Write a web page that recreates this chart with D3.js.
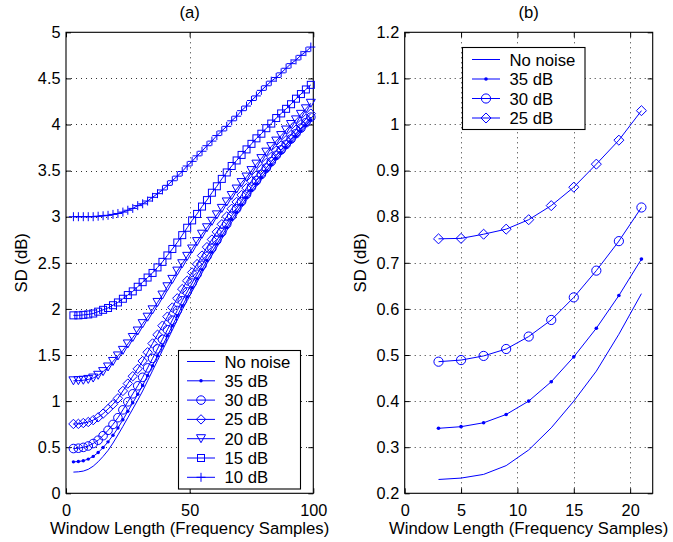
<!DOCTYPE html>
<html><head><meta charset="utf-8">
<script src="https://cdn.jsdelivr.net/npm/d3@7"></script>
<style>
body{margin:0;background:#fff}
svg{display:block;background:#fff}
text{font-family:"Liberation Sans",Arial,Helvetica,sans-serif;fill:#000}
</style>
</head><body>
<svg id="chart" width="673" height="542"></svg>
<script>
// ---------------- DATA ----------------
const windowLength = [3,5,7,9,11,13,15,17,19,21,23,25,27,29,31,33,35,37,39,41,43,45,47,49,51,53,55,57,59,61,63,65,67,69,71,73,75,77,79,81,83,85,87,89,91,93,95,97,99];

const noNoise = [0.230,0.233,0.241,0.260,0.294,0.342,0.400,0.465,0.545,0.633,0.725,0.82,0.915,1.01,1.11,1.22,1.33,1.44,1.55,1.66,1.77,1.88,1.99,2.09,2.19,2.29,2.39,2.49,2.58,2.67,2.76,2.85,2.94,3.02,3.10,3.18,3.26,3.33,3.40,3.47,3.54,3.61,3.67,3.73,3.79,3.85,3.91,3.97,4.03];
const snr35 = [0.341,0.3445,0.353,0.371,0.400,0.442,0.496,0.558,0.629,0.708,0.797,0.889,0.981,1.073,1.17,1.277,1.384,1.492,1.60,1.708,1.816,1.924,2.032,2.13,2.229,2.327,2.426,2.525,2.614,2.703,2.792,2.881,2.97,3.049,3.128,3.207,3.286,3.356,3.425,3.495,3.564,3.634,3.693,3.753,3.812,3.872,3.931,3.991,4.05];
const snr30 = [0.4855,0.489,0.498,0.513,0.540,0.576,0.625,0.683,0.747,0.820,0.905,0.992,1.079,1.166,1.258,1.36,1.463,1.566,1.67,1.774,1.878,1.983,2.088,2.184,2.28,2.376,2.473,2.57,2.657,2.744,2.832,2.92,3.008,3.086,3.164,3.242,3.321,3.39,3.459,3.528,3.597,3.666,3.725,3.784,3.843,3.902,3.961,4.02,4.08];
const snr25 = [0.752,0.753,0.762,0.773,0.7935,0.824,0.864,0.914,0.966,1.030,1.11,1.19,1.27,1.35,1.435,1.53,1.625,1.72,1.818,1.916,2.015,2.115,2.215,2.305,2.395,2.486,2.578,2.67,2.752,2.835,2.918,3.002,3.086,3.16,3.235,3.31,3.385,3.45,3.516,3.582,3.648,3.715,3.772,3.829,3.886,3.944,4.002,4.06,4.118];
const snr20 = [1.220,1.222,1.226,1.235,1.25,1.28,1.32,1.37,1.43,1.49,1.55,1.62,1.69,1.76,1.84,1.91,1.99,2.07,2.15,2.24,2.32,2.41,2.49,2.57,2.65,2.73,2.81,2.88,2.95,3.02,3.09,3.16,3.23,3.30,3.37,3.43,3.50,3.57,3.63,3.70,3.76,3.82,3.88,3.94,4.00,4.05,4.11,4.17,4.23];
const snr15 = [1.93,1.93,1.935,1.94,1.95,1.97,1.99,2.01,2.04,2.07,2.11,2.15,2.19,2.24,2.29,2.34,2.39,2.45,2.51,2.58,2.65,2.72,2.80,2.88,2.96,3.03,3.11,3.18,3.26,3.33,3.41,3.48,3.55,3.61,3.67,3.73,3.79,3.85,3.90,3.96,4.01,4.07,4.12,4.17,4.22,4.28,4.33,4.38,4.43];
const snr10 = [3.00,3.00,3.00,3.00,3.00,3.005,3.01,3.015,3.025,3.035,3.05,3.07,3.09,3.12,3.14,3.17,3.21,3.25,3.29,3.34,3.39,3.44,3.49,3.55,3.60,3.66,3.71,3.77,3.82,3.88,3.93,3.98,4.04,4.09,4.15,4.20,4.26,4.31,4.37,4.42,4.47,4.51,4.56,4.61,4.66,4.70,4.75,4.79,4.84];

const seriesNames = ["No noise","35 dB","30 dB","25 dB","20 dB","15 dB","10 dB"];
const seriesMarkers = ["none","dot","circle","diamond","triangle","square","plus"];
const seriesValues = [noNoise, snr35, snr30, snr25, snr20, snr15, snr10];

const panelBCount = 10; // panel (b) zooms on the first ten window lengths (3..21)

const xTicksA = [0,50,100];
const yTicksA = [0,0.5,1,1.5,2,2.5,3,3.5,4,4.5,5];
const xTicksB = [0,5,10,15,20];
const yTicksB = [0.2,0.3,0.4,0.5,0.6,0.7,0.8,0.9,1,1.1,1.2];

const titleA = "(a)", titleB = "(b)";
const xLabel = "Window Length (Frequency Samples)";
const yLabel = "SD (dB)";

// ---------------- DRAWING ----------------
const BLUE = "#0000ff";
const svg = d3.select("#chart");
svg.append("rect").attr("width",673).attr("height",542).attr("fill","#fff");

function drawMarker(g, type, x, y, s) {
  if (type === "none") return;
  if (type === "dot") {
    g.append("circle").attr("cx",x).attr("cy",y).attr("r",1.7*s).attr("fill",BLUE);
  } else if (type === "circle") {
    g.append("circle").attr("cx",x).attr("cy",y).attr("r",4.3*s)
      .attr("fill","none").attr("stroke",BLUE).attr("stroke-width",1);
  } else if (type === "diamond") {
    const h = 4.7*s;
    g.append("path").attr("d",`M${x},${y-h}L${x+h},${y}L${x},${y+h}L${x-h},${y}Z`)
      .attr("fill","none").attr("stroke",BLUE).attr("stroke-width",1);
  } else if (type === "triangle") {
    const w = 4.5*s, h = 4*s;
    g.append("path").attr("d",`M${x-w},${y-h}L${x+w},${y-h}L${x},${y+h}Z`)
      .attr("fill","none").attr("stroke",BLUE).attr("stroke-width",1);
  } else if (type === "square") {
    const h = 3.5*s;
    g.append("rect").attr("x",x-h).attr("y",y-h).attr("width",2*h).attr("height",2*h)
      .attr("fill","none").attr("stroke",BLUE).attr("stroke-width",1);
  } else if (type === "plus") {
    const h = 4.5*s;
    g.append("path").attr("d",`M${x-h},${y}L${x+h},${y}M${x},${y-h}L${x},${y+h}`)
      .attr("fill","none").attr("stroke",BLUE).attr("stroke-width",1);
  }
}

function panel(cfg) {
  const {x, y, xTicks, yTicks, title, n, mScale, legend, seriesCount} = cfg;
  const g = svg.append("g");
  const [x0,x1] = x.range(), [y0,y1] = y.range();

  // grid
  const grid = g.append("g").attr("stroke","#000").attr("stroke-width",1)
    .attr("stroke-dasharray","1,4").attr("opacity",0.8);
  xTicks.filter(t => x(t) > x0+1 && x(t) < x1-1).forEach(t => {
    grid.append("line").attr("x1",Math.round(x(t))+0.5).attr("x2",Math.round(x(t))+0.5)
      .attr("y1",y1).attr("y2",y0);
  });
  yTicks.filter(t => y(t) < y0-1 && y(t) > y1+1).forEach(t => {
    grid.append("line").attr("y1",Math.round(y(t))+0.5).attr("y2",Math.round(y(t))+0.5)
      .attr("x1",x0).attr("x2",x1);
  });

  // axes
  const fmt = d => String(d);
  const axB = g.append("g").attr("transform",`translate(0,${y0})`)
    .call(d3.axisBottom(x).tickValues(xTicks).tickSize(-5).tickPadding(11).tickFormat(fmt));
  const axT = g.append("g").attr("transform",`translate(0,${y1})`)
    .call(d3.axisTop(x).tickValues(xTicks).tickSize(-5).tickFormat(""));
  const axL = g.append("g").attr("transform",`translate(${x0},0)`)
    .call(d3.axisLeft(y).tickValues(yTicks).tickSize(-5).tickPadding(5.5).tickFormat(fmt));
  const axR = g.append("g").attr("transform",`translate(${x1},0)`)
    .call(d3.axisRight(y).tickValues(yTicks).tickSize(-5).tickFormat(""));
  [axB,axT,axL,axR].forEach(a => {
    a.select(".domain").remove();
    a.attr("font-family",null).attr("font-size",null);
    a.selectAll("line").attr("stroke","#000");
    a.selectAll("text").attr("font-size",16.3).attr("fill","#000");
  });

  // box
  g.append("rect").attr("x",x0).attr("y",y1).attr("width",x1-x0).attr("height",y0-y1)
    .attr("fill","none").attr("stroke","#000").attr("stroke-width",1.1);

  // data
  const lineGen = d3.line().x(d => x(d[0])).y(d => y(d[1]));
  const dg = g.append("g");
  for (let s = 0; s < seriesCount; s++) {
    const pts = windowLength.slice(0,n).map((w,i) => [w, seriesValues[s][i]]);
    dg.append("path").attr("d",lineGen(pts)).attr("fill","none")
      .attr("stroke",BLUE).attr("stroke-width",1);
    const mg = dg.append("g");
    pts.forEach(p => drawMarker(mg, seriesMarkers[s], x(p[0]), y(p[1]), mScale));
  }

  // labels
  const cx = (x0+x1)/2;
  g.append("text").attr("x",cx).attr("y",18).attr("text-anchor","middle")
    .attr("font-size",16.7).text(title);
  g.append("text").attr("x",cx).attr("y",534).attr("text-anchor","middle")
    .attr("font-size",16.7).text(xLabel);
  g.append("text").attr("transform",`translate(${x0-39},${(y0+y1)/2}) rotate(-90)`)
    .attr("text-anchor","middle").attr("font-size",16.7).text(yLabel);

  // legend
  const lg = g.append("g");
  lg.append("rect").attr("x",legend.x).attr("y",legend.y).attr("width",legend.w).attr("height",legend.h)
    .attr("fill","#fff").attr("stroke","#000").attr("stroke-width",1.1);
  for (let s = 0; s < seriesCount; s++) {
    const ry = legend.firstRow + s*legend.rowH;
    lg.append("line").attr("x1",legend.lx0).attr("x2",legend.lx1).attr("y1",ry).attr("y2",ry)
      .attr("stroke",BLUE).attr("stroke-width",1);
    drawMarker(lg, seriesMarkers[s], (legend.lx0+legend.lx1)/2, ry, mScale);
    lg.append("text").attr("x",legend.tx).attr("y",ry+6).attr("font-size",16.7).text(seriesNames[s]);
  }
}

panel({
  x: d3.scaleLinear().domain([0,100]).range([66,313.3]),
  y: d3.scaleLinear().domain([0,5]).range([493.3,32.3]),
  xTicks: xTicksA, yTicks: yTicksA, title: titleA,
  n: windowLength.length, mScale: 1, seriesCount: 7,
  legend: {x:178.5, y:350.5, w:122, h:138.5, firstRow:361.5, rowH:19.3, lx0:187, lx1:215, tx:224.5}
});

panel({
  x: d3.scaleLinear().domain([0,22]).range([404.7,652.7]),
  y: d3.scaleLinear().domain([0.2,1.2]).range([493.3,32.3]),
  xTicks: xTicksB, yTicks: yTicksB, title: titleB,
  n: panelBCount, mScale: 1.07, seriesCount: 4,
  legend: {x:462.5, y:47.5, w:122.5, h:82, firstRow:59.5, rowH:19.5, lx0:472, lx1:500, tx:509.5}
});
</script>
</body></html>
